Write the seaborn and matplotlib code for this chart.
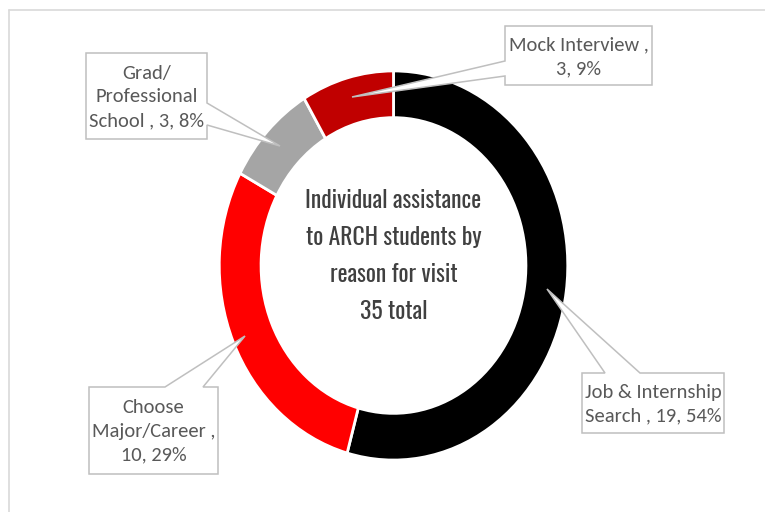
import matplotlib
matplotlib.use("Agg")
import matplotlib.pyplot as plt
from matplotlib.patches import Polygon
from matplotlib.lines import Line2D
import seaborn as sns

## Data
names = ["Job & Internship\nSearch", "Choose\nMajor/Career", "Grad/\nProfessional\nSchool", "Mock Interview"]
counts = [19, 10, 3, 3]
pct_labels = ["54%", "29%", "8%", "9%"]
seps = [" , ", " ,\n", " , ", " ,\n"]
title_lines = ["Individual assistance", "to ARCH students by", "reason for visit", "35 total"]

sns.set_style("white")
colors = sns.color_palette(["#000000", "#FF0000", "#A5A5A5", "#C00000"])

W, H = 765, 512
fig = plt.figure(figsize=(W / 100, H / 100), dpi=100)

# donut (slightly taller than wide, like the original)
cx, cy, rx, ry = 393.5, 265.5, 176, 196.5
ax = fig.add_axes([(cx - rx) / W, 1 - (cy + ry) / H, 2 * rx / W, 2 * ry / H])
ax.pie(counts, colors=colors, startangle=90, counterclock=False, radius=1,
       wedgeprops=dict(width=0.24, edgecolor="white", linewidth=2))
ax.set_aspect("auto")
ax.set_xlim(-1.01, 1.01)
ax.set_ylim(-1.01, 1.01)
ax.axis("off")

ov = fig.add_axes([0, 0, 1, 1], zorder=5)
ov.set_xlim(0, W)
ov.set_ylim(H, 0)
ov.axis("off")
ov.patch.set_alpha(0)

ov.add_line(Line2D([9, W + 5], [10, 10], color="#D9D9D9", lw=1.2))
ov.add_line(Line2D([9, 9], [10, H + 5], color="#D9D9D9", lw=1.2))

ov.text(cx, 256, "\n".join(title_lines), ha="center", va="center",
        fontsize=17, color="#404040", linespacing=1.72, fontweight=300,
        family=["Oswald Light", "Oswald", "Abel", "DejaVu Sans"])

callouts = [
    ((582, 373, 724, 433), "top", (605, 640), (547, 289)),
    ((89, 387, 218, 474), "top", (165, 203), (245, 336)),
    ((86, 53, 207, 139), "right", (103, 125), (280, 146)),
    ((505, 26, 652, 85), "left", (61, 76), (352, 97)),
]

for i, (box, side, base, tip) in enumerate(callouts):
    x0, y0, x1, y1 = box
    a, b = base
    if side == "top":
        pts = [(x0, y0), (a, y0), tip, (b, y0), (x1, y0), (x1, y1), (x0, y1)]
    elif side == "right":
        pts = [(x0, y0), (x1, y0), (x1, a), tip, (x1, b), (x1, y1), (x0, y1)]
    else:
        pts = [(x0, y0), (x1, y0), (x1, y1), (x0, y1), (x0, b), tip, (x0, a)]
    ov.add_patch(Polygon(pts, closed=True, facecolor="white", edgecolor="#BFBFBF", lw=1.1))
    label = names[i] + seps[i] + f"{counts[i]}, {pct_labels[i]}"
    ov.text((x0 + x1) / 2, (y0 + y1) / 2 + 1, label, ha="center", va="center",
            fontsize=14.8, color="#595959", linespacing=1.48,
            family=["Carlito", "Lato", "DejaVu Sans"])

fig.savefig("out.png", dpi=100, facecolor="white")
